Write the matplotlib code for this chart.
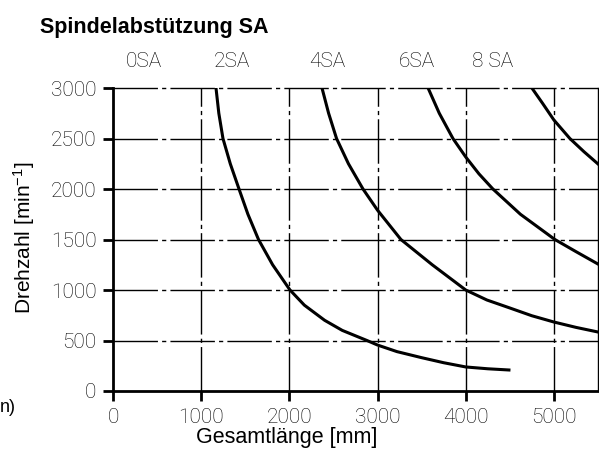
import matplotlib
matplotlib.use("Agg")
import matplotlib.pyplot as plt

plt.rcParams["lines.scale_dashes"] = False
plt.rcParams["mathtext.default"] = "regular"

# Gesamtlänge [mm] / Drehzahl [min-1]
curve_2sa_x = [1168, 1200, 1247, 1330, 1429, 1530, 1650, 1810, 2007, 2170, 2400,
               2600, 2880, 3000, 3220, 3500, 3750, 4000, 4250, 4490]
curve_2sa_y = [3000, 2750, 2500, 2250, 2000, 1750, 1500, 1250, 1000, 850, 700,
               600, 500, 455, 390, 330, 280, 238, 220, 208]

curve_4sa_x = [2370, 2445, 2535, 2670, 2835, 3000, 3265, 3620, 4000, 4240, 4500,
               4750, 5000, 5250, 5500]
curve_4sa_y = [3000, 2750, 2500, 2250, 2000, 1790, 1500, 1250, 1000, 901, 822,
               745, 683, 630, 584]

curve_6sa_x = [3573, 3700, 3855, 4000, 4150, 4308, 4620, 5011, 5250, 5500]
curve_6sa_y = [3000, 2750, 2500, 2317, 2150, 2000, 1750, 1500, 1380, 1257]

curve_8sa_x = [4750, 4870, 5000, 5181, 5340, 5500]
curve_8sa_y = [3000, 2850, 2683, 2500, 2370, 2248]

top_labels = ["0SA", "2SA", "4SA", "6SA", "8 SA"]
top_label_x = [350, 1350, 2425, 3445, 4310]

x_ticks = [0, 1000, 2000, 3000, 4000, 5000]
y_ticks = [0, 500, 1000, 1500, 2000, 2500, 3000]

thin = dict(family="Roboto", weight="light", fontsize=15, color="black")
sans = "Liberation Sans"

fig = plt.figure(figsize=(5.99, 4.58), dpi=100)
ax = fig.add_axes([113 / 599, 1 - 391 / 458, 485 / 599, 303 / 458])

ax.set_xlim(0, 5500)
ax.set_ylim(0, 3000)

dashdot = (0, (32, 3, 3, 3))
for xv in x_ticks[1:]:
    ax.axvline(xv, color="black", lw=1.0, linestyle=dashdot, zorder=1)
for yv in y_ticks[1:]:
    ax.axhline(yv, color="black", lw=1.0, linestyle=dashdot, zorder=1, clip_on=False)

for xs, ys in [(curve_2sa_x, curve_2sa_y), (curve_4sa_x, curve_4sa_y),
               (curve_6sa_x, curve_6sa_y), (curve_8sa_x, curve_8sa_y)]:
    ax.plot(xs, ys, color="black", lw=2.2, zorder=3, solid_joinstyle="round")

ax.spines["top"].set_visible(False)
ax.spines["left"].set_linewidth(2.0)
ax.spines["bottom"].set_linewidth(2.0)
ax.spines["right"].set_linewidth(1.0)

ax.set_xticks(x_ticks)
ax.set_yticks(y_ticks)
ax.tick_params(axis="both", direction="out", length=7, width=2.0, pad=5)
for lab in ax.get_xticklabels() + ax.get_yticklabels():
    lab.set_family("Roboto")
    lab.set_weight("light")
    lab.set_fontsize(15)
    lab.set_color("black")

for txt, xv in zip(top_labels, top_label_x):
    ax.text(xv, 3260, txt, ha="center", va="center", **thin)

ax.set_xlabel("Gesamtlänge [mm]", family=sans, fontsize=15.5)
ax.xaxis.set_label_coords(0.359, -0.152)
ax.xaxis.label.set_va("center")
ax.set_ylabel("Drehzahl [min$^{-1}$]", family=sans, fontsize=15)
ax.yaxis.set_label_coords(-0.183, 0.505)
ax.yaxis.label.set_va("center")

fig.text(40 / 599, 1 - 28 / 458, "Spindelabstützung SA", family=sans,
         weight="bold", fontsize=15.5, ha="left", va="center")
fig.text(0.0, 1 - 408 / 458, "n)", family=sans, fontsize=13,
         ha="left", va="center")

fig.savefig("out.png", dpi=100)
